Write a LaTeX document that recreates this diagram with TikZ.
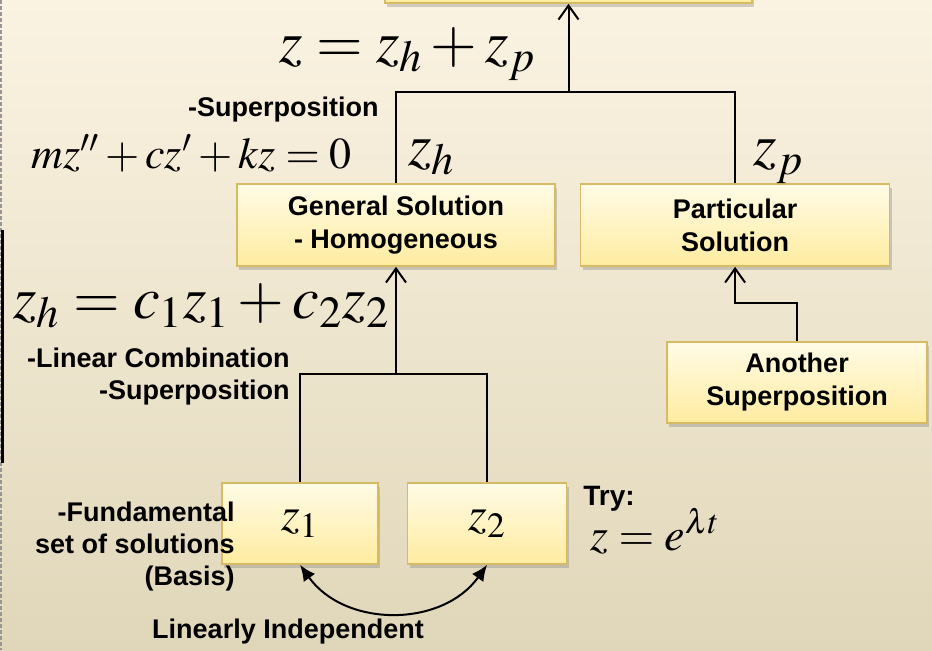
\documentclass[tikz,border=0pt]{standalone}
\usepackage{mathptmx}
\usepackage{fontspec}
\newfontfamily\lblfont{Liberation Sans}
\usetikzlibrary{arrows.meta,positioning,shadows}
\definecolor{bgtop}{RGB}{251,243,226}
\definecolor{bgbot}{RGB}{224,215,186}
\definecolor{boxtop}{RGB}{255,251,230}
\definecolor{boxbot}{RGB}{255,236,160}
\definecolor{boxline}{RGB}{214,186,100}
\definecolor{edge}{RGB}{150,150,150}
\newcommand\eqbig{\fontsize{30}{36}\selectfont}
\newcommand\eqmid{\fontsize{24}{30}\selectfont}
\newcommand\eqsml{\fontsize{22}{26}\selectfont}

\begin{document}
\begin{tikzpicture}[x=0.5pt,y=-0.5pt,
  box/.style={draw=boxline,line width=0.8pt,top color=boxtop,bottom color=boxbot,
              drop shadow={opacity=0.35,shadow xshift=1pt,shadow yshift=-2pt},
              align=center,font=\lblfont\bfseries\fontsize{13.5}{16.5}\selectfont,
              minimum height=41pt,inner sep=2pt},
  lbl/.style={font=\lblfont\bfseries\fontsize{13.5}{16}\selectfont,inner sep=0pt},
  mth/.style={inner sep=0pt,anchor=base west},
  ln/.style={line width=1pt},
  arr/.style={ln,-{Straight Barb[length=7pt,width=10pt]}},
  dbl/.style={ln,{Latex[length=8pt,width=7pt]}-{Latex[length=8pt,width=7pt]}}]
 % background and left margin
 \shade[top color=bgtop,bottom color=bgbot] (0,0) rectangle (932,650);
 \useasboundingbox (0,0) rectangle (932,650);
 \draw[edge,line width=1pt,dash pattern=on 2pt off 1pt] (1,0) -- (1,650);
 \draw[line width=1.5pt] (2,230) -- (2,463);
 % boxes
 \node[box,minimum width=183.5pt,minimum height=40pt] (top) at (568.5,-37) {};
 \node[box,minimum width=159pt] (gen) at (396,225) {General Solution\\- Homogeneous};
 \node[box,minimum width=154.5pt,right=12pt of gen] (part) {Particular\\Solution};
 \node[box,minimum width=130pt,minimum height=40.5pt] (anoth) at (797,382.5) {Another\\Superposition};
 \node[box,minimum width=78pt,minimum height=40.5pt] (z1) at (300,523.5) {\eqmid$z_1$};
 \node[box,minimum width=79.5pt,minimum height=40.5pt,right=14pt of z1] (z2) {\eqmid$z_2$};
 % connectors
 \coordinate (tj) at (568.5,92);
 \coordinate (bj) at (396,374);
 \coordinate (aj) at (797,303);
 \draw[ln] (gen.north) |- (tj) -| (part.north);
 \draw[arr] (tj) -- (top.south);
 \draw[ln] (z1.north) |- (bj) -| (z2.north);
 \draw[arr] (bj) -- (gen.south);
 \draw[arr] (anoth.north) -- (aj) -| (part.south);
 \draw[dbl] (z1.south) .. controls +(45,63) and +(-45,63) .. (z2.south);
 % equations and labels
 \node[mth] (zsum) at (279,62) {\eqbig$z=z_h+z_p$};
 \node[lbl,anchor=east] (sup1) at (379,110) {-Superposition};
 \node[mth,anchor=base east] (ode) at (352,168) {\eqsml$mz''+cz'+kz=0$};
 \node[mth] (zh) at (408,165) {\eqbig$z_h$};
 \node[mth] (zp) at (753,165) {\eqbig$z_p$};
 \node[mth] (zcomb) at (13,318) {\eqbig$z_h=c_1z_1+c_2z_2$};
 \node[lbl,align=right,anchor=north east] (lincomb) at (290,348) {-Linear Combination\\-Superposition};
 \node[lbl,align=right,anchor=east] (fund) at (235,547) {-Fundamental\\set of solutions\\(Basis)};
 \node[lbl] (indep) at (288,632) {Linearly Independent};
 \node[lbl,anchor=west,font=\lblfont\bfseries\fontsize{14}{16}\selectfont] (try) at (583,499) {Try:};
 \node[mth] (trial) at (590,550) {\fontsize{23}{28}\selectfont$z=e^{\lambda t}$};
\end{tikzpicture}
\end{document}
